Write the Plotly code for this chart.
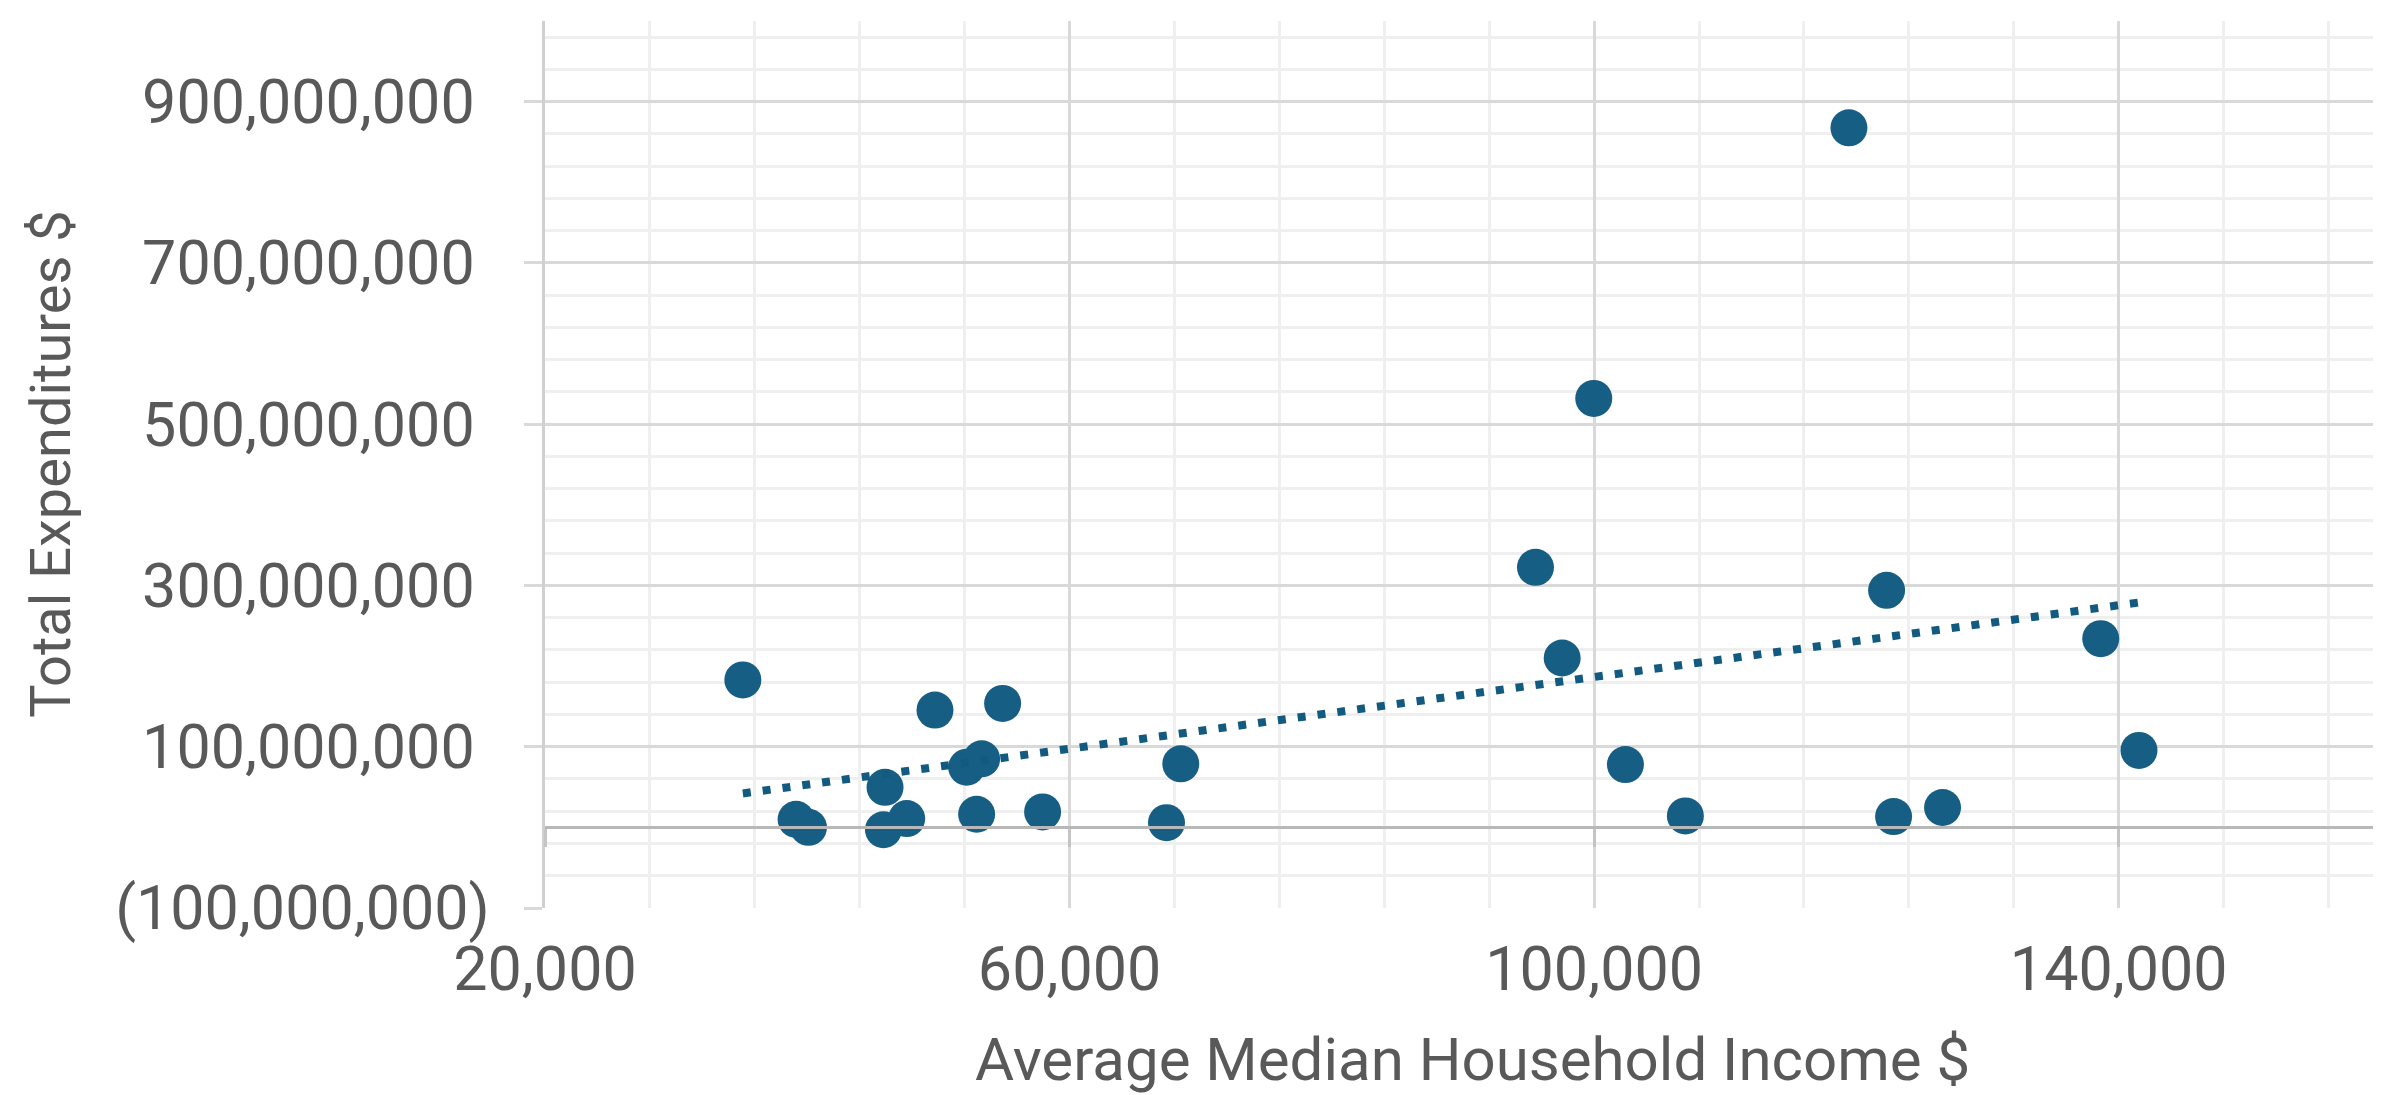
import numpy as np
import plotly.graph_objects as go

# Average median household income ($)
income = [35086, 39147, 40091, 45928, 45806, 47581, 49737, 54895, 52152, 53295,
          52914, 57943, 68480, 67390, 95527, 97562, 102385, 106956, 122301, 122834,
          126567, 138628, 141546, 119428, 99970]
# Total expenditures ($)
expenditures = [182.9e6, 10e6, 0.0, 49.6e6, -3e6, 10.9e6, 145.4e6, 153.75e6, 74.6e6, 85e6,
                16.25e6, 19.2e6, 78.75e6, 5.8e6, 322.5e6, 210e6, 77.9e6, 14.2e6, 294e6, 13.4e6,
                24.6e6, 234e6, 95.4e6, 867.5e6, 532e6]

x_tick_vals = [20000, 60000, 100000, 140000]
x_tick_text = ["20,000", "60,000", "100,000", "140,000"]
y_tick_vals = [-100e6, 100e6, 300e6, 500e6, 700e6, 900e6]
y_tick_text = ["(100,000,000)", "100,000,000\u00a0", "300,000,000\u00a0", "500,000,000\u00a0",
               "700,000,000\u00a0", "900,000,000\u00a0"]

x_title = "Average Median Household Income $"
y_title = "Total Expenditures $"

# linear trendline (least squares) over the data range
slope, intercept = np.polyfit(income, expenditures, 1)
trend_x = [min(income), max(income)]
trend_y = [slope * v + intercept for v in trend_x]

FONT = "Roboto"
TXT = "#595959"

fig = go.Figure()
fig.add_trace(go.Scatter(
    x=trend_x, y=trend_y, mode="lines", xaxis="x2", yaxis="y",
    line=dict(color="#135A80", width=8, dash="8px,12px"),
    hoverinfo="skip", showlegend=False))
fig.add_trace(go.Scatter(
    x=income, y=expenditures, mode="markers",
    marker=dict(size=37, color="#175E85", line=dict(width=0)),
    showlegend=False))

fig.update_layout(
    width=2381, height=1095,
    margin=dict(l=537, r=8, t=13, b=195),
    paper_bgcolor="white", plot_bgcolor="white",
    font=dict(family=FONT, color=TXT, size=61),
    xaxis=dict(
        range=[20000, 160000], tickmode="array", tickvals=x_tick_vals, ticktext=x_tick_text,
        showgrid=True, gridcolor="#d9d9d9", gridwidth=3,
        minor=dict(tickmode="linear", tick0=20000, dtick=8000, showgrid=True,
                   gridcolor="#efefef", gridwidth=3),
        zeroline=False, showline=False, ticks="", ticklabelstandoff=20,
        tickfont=dict(family=FONT, size=61, color=TXT),
    ),
    xaxis2=dict(
        range=[20000, 160000], overlaying="x", anchor="free", position=1e8 / 1100e6,
        side="bottom", showgrid=False, zeroline=False, showticklabels=False,
        showline=True, linecolor="#b8b8b8", linewidth=3,
        tickmode="array", tickvals=x_tick_vals, ticks="outside", ticklen=18,
        tickwidth=3, tickcolor="#c4c4c4",
    ),
    yaxis=dict(
        range=[-100e6, 1000e6], tickmode="array", tickvals=y_tick_vals, ticktext=y_tick_text,
        showgrid=True, gridcolor="#d9d9d9", gridwidth=3,
        minor=dict(tickmode="linear", tick0=-100e6, dtick=40e6, showgrid=True,
                   gridcolor="#efefef", gridwidth=3),
        zeroline=False, showline=True, linecolor="#d0d0d0", linewidth=3,
        ticks="outside", ticklen=18, tickwidth=3, tickcolor="#d9d9d9",
        ticklabelstandoff=22,
        tickfont=dict(family=FONT, size=61, color=TXT),
    ),
    annotations=[
        dict(text=x_title, xref="paper", yref="paper", x=0.505, y=-0.171,
             xanchor="center", yanchor="middle", showarrow=False,
             font=dict(family=FONT, size=60, color=TXT)),
        dict(text=y_title, xref="paper", yref="paper", x=-0.2695, y=0.5,
             xanchor="center", yanchor="middle", textangle=-90, showarrow=False,
             font=dict(family=FONT, size=56, color=TXT)),
    ],
)

fig.write_html("out.html")
